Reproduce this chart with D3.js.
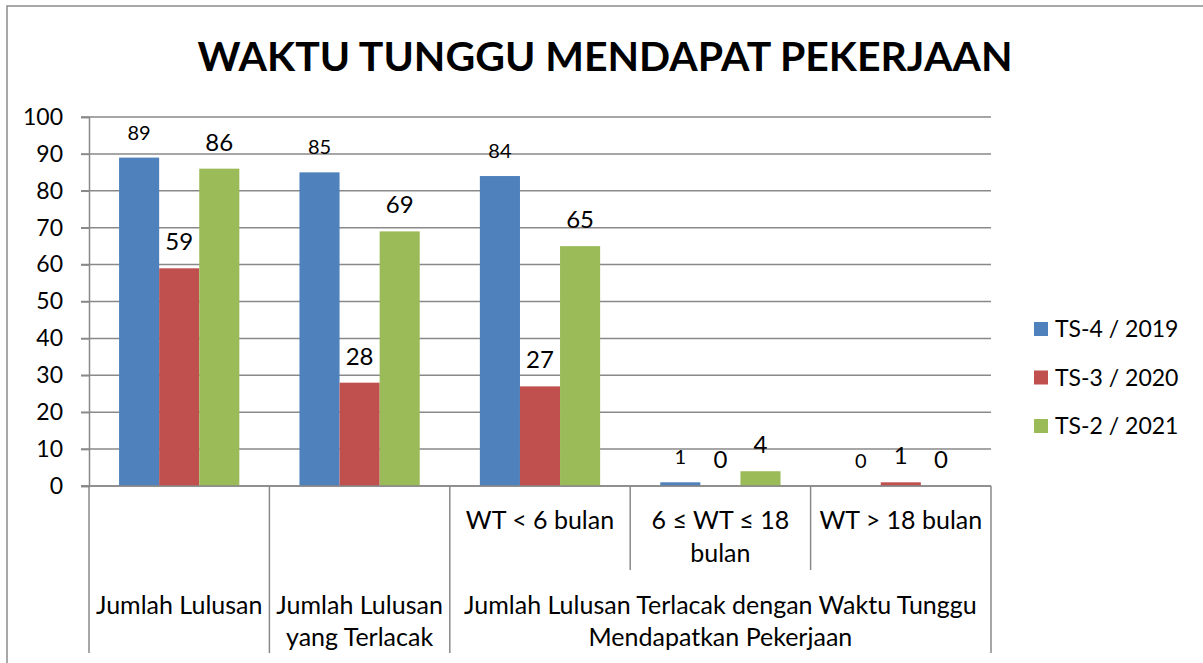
<!DOCTYPE html>
<meta charset="utf-8">
<script src="https://d3js.org/d3.v7.min.js"></script>
<style>
  body { margin: 0; background: #fff; }
  text { font-family: Lato, "Open Sans", sans-serif; fill: #000; }
</style>
<body>
<svg id="chart" width="1203" height="663"></svg>
<script>
// chart values
var groups = ["Jumlah Lulusan", "Jumlah Lulusan yang Terlacak", "WT < 6 bulan", "6 ≤ WT ≤ 18 bulan", "WT > 18 bulan"];
var series = ["TS-4 / 2019", "TS-3 / 2020", "TS-2 / 2021"];
var ts4 = [89, 85, 84, 1, 0];
var ts3 = [59, 28, 27, 0, 1];
var ts2 = [86, 69, 65, 4, 0];
var yTicks = [0, 10, 20, 30, 40, 50, 60, 70, 80, 90, 100];

// category labels: first row (sub groups) and second row (parents)
var subLabels = [[], [], ["WT < 6 bulan"], ["6 ≤ WT ≤ 18", "bulan"], ["WT > 18 bulan"]];
var parents = [
  { lines: ["Jumlah Lulusan"], from: 0, to: 0 },
  { lines: ["Jumlah Lulusan", "yang Terlacak"], from: 1, to: 1 },
  { lines: ["Jumlah Lulusan Terlacak dengan Waktu Tunggu", "Mendapatkan Pekerjaan"], from: 2, to: 4 }
];
var colors = ["#4f81bd", "#c0504d", "#9bbb59"];

var svg = d3.select("#chart");
var gridColor = "#898989";

// outer frame
svg.append("rect")
  .attr("x", 7).attr("y", 6).attr("width", 1230).attr("height", 700)
  .attr("fill", "none").attr("stroke", "#8c8c8c").attr("stroke-width", 1.5);

// title
var title = svg.append("text")
  .attr("x", 605).attr("y", 71)
  .attr("text-anchor", "middle")
  .style("font-weight", "bold")
  .style("font-size", "40px")
  .text("WAKTU TUNGGU MENDAPAT PEKERJAAN");
var tw = title.node().getComputedTextLength();
title.style("font-size", (40 * 815 / tw) + "px");

var x0 = d3.scaleBand().domain(groups).range([89, 991]).padding(0);
var x1 = d3.scaleBand().domain(series).range([0, x0.bandwidth()]).paddingInner(0).paddingOuter(0.75);
var y = d3.scaleLinear().domain([0, 100]).range([486, 117]);

// gridlines
svg.append("g")
  .selectAll("line")
  .data(yTicks)
  .enter().append("line")
    .attr("x1", 81).attr("x2", 991)
    .attr("y1", function(d) { return y(d); })
    .attr("y2", function(d) { return y(d); })
    .attr("stroke", gridColor).attr("stroke-width", 1.5);

// y axis
var yAxis = svg.append("g")
  .attr("transform", "translate(89,0)")
  .call(d3.axisLeft(y).tickValues(yTicks).tickSize(8).tickPadding(18));
yAxis.select(".domain").attr("stroke", gridColor).attr("stroke-width", 1.5);
yAxis.selectAll(".tick line").attr("stroke", gridColor).attr("stroke-width", 1.5);
yAxis.selectAll(".tick text")
  .style("font-family", "Lato, sans-serif")
  .style("font-size", "23px")
  .attr("fill", "#000");

// bars
var rows = groups.map(function(g, i) {
  return { group: g, values: [ts4[i], ts3[i], ts2[i]] };
});

var grp = svg.append("g")
  .selectAll("g")
  .data(rows)
  .enter().append("g")
    .attr("transform", function(d) { return "translate(" + x0(d.group) + ",0)"; });

grp.selectAll("rect")
  .data(function(d) { return d.values.map(function(v, k) { return { s: series[k], k: k, v: v }; }); })
  .enter().append("rect")
    .attr("x", function(d) { return x1(d.s); })
    .attr("width", x1.bandwidth())
    .attr("y", function(d) { return y(d.v); })
    .attr("height", function(d) { return y(0) - y(d.v); })
    .attr("fill", function(d) { return colors[d.k]; });

grp.selectAll("text")
  .data(function(d) { return d.values.map(function(v, k) { return { s: series[k], k: k, v: v }; }); })
  .enter().append("text")
    .attr("x", function(d) { return x1(d.s) + x1.bandwidth() / 2; })
    .attr("y", function(d) { return y(d.v) - (d.k === 0 ? 18 : 18); })
    .attr("text-anchor", "middle")
    .style("font-size", function(d) { return d.k === 0 ? "20px" : "24px"; })
    .text(function(d) { return d.v; });

// x axis baseline
svg.append("line")
  .attr("x1", 81).attr("x2", 991)
  .attr("y1", y(0)).attr("y2", y(0))
  .attr("stroke", gridColor).attr("stroke-width", 1.5);

// separators between categories
var bounds = groups.map(function(g) { return x0(g); }).concat([x0.range()[1]]);
var parentEdges = [];
parents.forEach(function(p) { parentEdges.push(p.from); parentEdges.push(p.to + 1); });

svg.append("g")
  .selectAll("line")
  .data(bounds)
  .enter().append("line")
    .attr("x1", function(d) { return d; })
    .attr("x2", function(d) { return d; })
    .attr("y1", y(0))
    .attr("y2", function(d, i) { return parentEdges.indexOf(i) >= 0 ? 653 : 570; })
    .attr("stroke", gridColor).attr("stroke-width", 1.5);

// first row labels
svg.append("g")
  .selectAll("text")
  .data(subLabels.map(function(l, i) { return { lines: l, g: groups[i] }; }))
  .enter().append("text")
    .attr("text-anchor", "middle")
    .style("font-size", "25px")
    .each(function(d) {
      var t = d3.select(this);
      d.lines.forEach(function(line, j) {
        t.append("tspan")
          .attr("x", x0(d.g) + x0.bandwidth() / 2)
          .attr("y", 529 + j * 33)
          .text(line);
      });
    });

// second row labels
svg.append("g")
  .selectAll("text")
  .data(parents)
  .enter().append("text")
    .attr("text-anchor", "middle")
    .style("font-size", "25px")
    .each(function(d) {
      var t = d3.select(this);
      var cx = (x0(groups[d.from]) + x0(groups[d.to]) + x0.bandwidth()) / 2;
      d.lines.forEach(function(line, j) {
        t.append("tspan")
          .attr("x", cx)
          .attr("y", 614 + j * 32)
          .text(line);
      });
    });

// legend
var legend = svg.append("g")
  .selectAll("g")
  .data(series)
  .enter().append("g")
    .attr("transform", function(d, i) { return "translate(1034," + (322 + i * 48.5) + ")"; });
legend.append("rect")
  .attr("width", 14).attr("height", 14)
  .attr("fill", function(d, i) { return colors[i]; });
legend.append("text")
  .attr("x", 21).attr("y", 15)
  .style("font-size", "23px")
  .text(function(d) { return d; });
</script>
</body>
